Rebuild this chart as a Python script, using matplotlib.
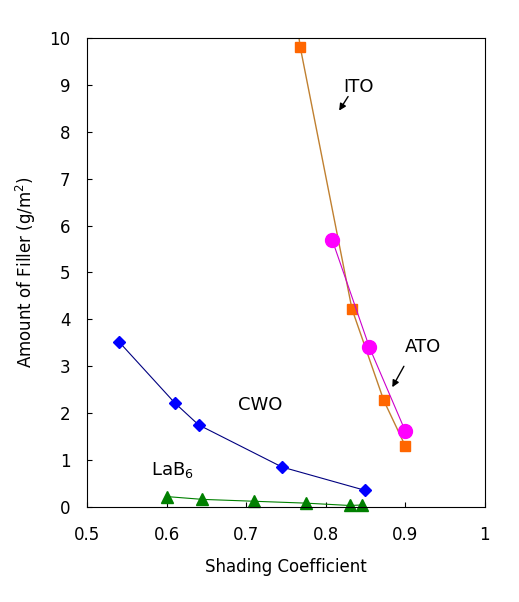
import matplotlib
matplotlib.use("Agg")
import matplotlib.pyplot as plt

cwo_x = [0.54, 0.61, 0.64, 0.745, 0.85]
cwo_y = [3.52, 2.22, 1.75, 0.85, 0.35]
lab_x = [0.60, 0.645, 0.71, 0.775, 0.83, 0.845]
lab_y = [0.22, 0.16, 0.12, 0.08, 0.03, 0.04]
ito_x = [0.768, 0.833, 0.873, 0.90]
ito_y = [9.8, 4.22, 2.27, 1.3]
ato_x = [0.808, 0.855, 0.90]
ato_y = [5.7, 3.4, 1.62]

fig = plt.figure(figsize=(5.19, 6.02), dpi=100)
ax = fig.add_axes([0.168, 0.158, 0.766, 0.779])
ax.plot([0.764] + ito_x, [10.3] + ito_y, color="#c08030", lw=1, clip_on=True)
ax.plot(ito_x, ito_y, "s", color="#ff6600", ms=7, mec="#ff6600", clip_on=False)
ax.plot(ato_x, ato_y, "-", color="#cc00cc", lw=0.8)
ax.plot(ato_x, ato_y, "o", color="#ff00ff", ms=10, clip_on=False)
ax.plot(cwo_x, cwo_y, "-", color="#000080", lw=0.8)
ax.plot(cwo_x, cwo_y, "D", color="#0000ff", ms=6.5, clip_on=False)
ax.plot(lab_x, lab_y, "-", color="#008000", lw=0.8)
ax.plot(lab_x, lab_y, "^", color="#008000", ms=9, clip_on=False)

ax.set_xlim(0.5, 1)
ax.set_ylim(0, 10)
ax.set_xticks([0.5, 0.6, 0.7, 0.8, 0.9, 1])
ax.set_xticklabels(["0.5", "0.6", "0.7", "0.8", "0.9", "1"])
ax.set_yticks(range(11))
ax.tick_params(labelsize=12, direction="in")
ax.tick_params(axis="x", pad=14)
ax.tick_params(axis="y", pad=12)
ax.set_xlabel("Shading Coefficient", fontsize=12, labelpad=10)
ax.set_ylabel("Amount of Filler (g/m$^2$)", fontsize=12, labelpad=8)

ax.text(0.822, 8.96, "ITO", fontsize=13, va="center")
ax.annotate("", xy=(0.815, 8.4), xytext=(0.83, 8.8),
            arrowprops=dict(arrowstyle="-|>", color="black", lw=1))
ax.text(0.9, 3.4, "ATO", fontsize=13, va="center")
ax.annotate("", xy=(0.882, 2.5), xytext=(0.9, 3.05),
            arrowprops=dict(arrowstyle="-|>", color="black", lw=1))
ax.text(0.69, 2.17, "CWO", fontsize=13, va="center")
ax.text(0.58, 0.79, "LaB$_6$", fontsize=13, va="center")

fig.savefig("out.png", dpi=100)
